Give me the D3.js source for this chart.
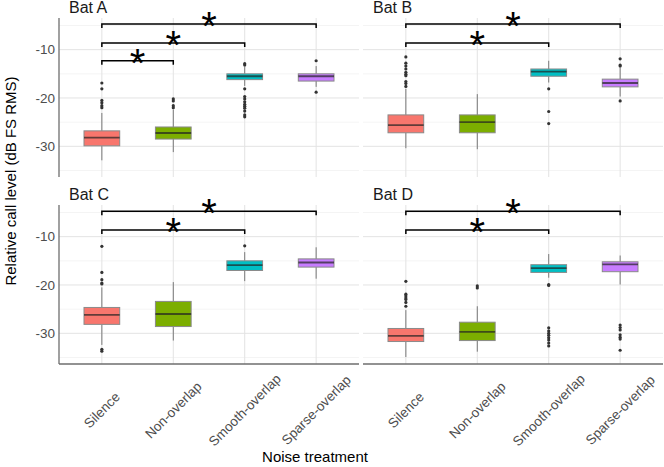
<!DOCTYPE html>
<html><head><meta charset="utf-8">
<script src="https://cdn.jsdelivr.net/npm/d3@7"></script>
<style>body{margin:0;background:#fff}text{font-family:"Liberation Sans",Arial,sans-serif}</style>
</head><body><svg id="chart" width="664" height="467"></svg>
<script>
// ---- data ----
const categories = ["Silence", "Non-overlap", "Smooth-overlap", "Sparse-overlap"];
const bats = ["Bat A", "Bat B", "Bat C", "Bat D"];
const yTicks = [-30, -20, -10];
const yMinorTicks = [-35, -25, -15, -5];
const yDomain = [-36.35, -3.45];

// box stats per treatment: [lower whisker, Q1, median, Q3, upper whisker]
const boxesA = [[-32.9, -29.9, -28.2, -26.8, -23.1], [-31.2, -28.5, -27.25, -26.0, -22.4], [-17.5, -16.2, -15.5, -15.0, -13.6], [-17.7, -16.5, -15.5, -15.0, -13.4]];
const boxesB = [[-30.4, -27.2, -25.6, -23.5, -18.1], [-30.6, -27.2, -25.0, -23.5, -19.2], [-16.8, -15.5, -14.55, -14.0, -12.3], [-19.7, -17.7, -16.9, -16.1, -13.8]];
const boxesC = [[-32.4, -28.15, -26.2, -24.65, -20.5], [-31.5, -28.6, -26.0, -23.4, -19.4], [-19.2, -17.0, -15.9, -15.0, -13.2], [-18.7, -16.3, -15.35, -14.6, -12.2]];
const boxesD = [[-34.9, -31.7, -30.55, -29.0, -25.2], [-33.8, -31.5, -29.7, -27.7, -24.4], [-18.5, -17.4, -16.5, -15.8, -13.6], [-19.9, -17.25, -15.75, -15.2, -13.9]];

// outliers per treatment
const outliersA = [[-16.9, -18.1, -20.5, -21.0, -21.6, -22.0], [-20.2, -20.6, -21.6, -22.0], [-12.9, -13.2, -18.1, -19.7, -20.2, -20.8, -21.3, -21.7, -22.1, -22.7, -23.5, -23.9], [-12.3, -18.8]];
const outliersB = [[-11.5, -12.8, -13.4, -14.0, -14.7, -15.1, -15.4, -16.6, -17.0, -17.6], [], [-18.1, -22.8, -25.3], [-11.9, -13.2, -13.4, -20.6]];
const outliersC = [[-12.0, -17.4, -18.9, -19.6, -19.8, -33.3, -33.7], [], [-11.9], []];
const outliersD = [[-19.25, -21.9, -22.3, -22.7, -23.0, -23.6, -24.4], [-20.2, -20.6], [-19.9, -20.1, -28.85, -29.5, -30.0, -30.4, -30.9, -31.4, -32.0, -32.6], [-28.3, -28.8, -29.3, -30.3, -30.8, -31.2, -33.5]];

// significance brackets: [from category index, to category index, y value]
const bracketsA = [[0, 3, -4.7], [0, 2, -8.6], [0, 1, -12.3]];
const bracketsB = [[0, 3, -4.7], [0, 2, -8.6]];
const bracketsC = [[0, 3, -4.75], [0, 2, -8.6]];
const bracketsD = [[0, 3, -4.75], [0, 2, -8.6]];
const sigLabel = "*";

const xTitle = "Noise treatment";
const yTitle = "Relative call level (dB FS RMS)";

// ---- layout / style ----
const fills = ["#F8766D", "#7CAE00", "#00BFC4", "#C77CFF"];
const panels = [
  {name: bats[0], boxes: boxesA, out: outliersA, br: bracketsA, x0: 59, y0: 18, left: true, bottom: false},
  {name: bats[1], boxes: boxesB, out: outliersB, br: bracketsB, x0: 363, y0: 18, left: false, bottom: false},
  {name: bats[2], boxes: boxesC, out: outliersC, br: bracketsC, x0: 59, y0: 205, left: true, bottom: true},
  {name: bats[3], boxes: boxesD, out: outliersD, br: bracketsD, x0: 363, y0: 205, left: false, bottom: true}
];
const panelW = 300, panelH = 159;

const svg = d3.select("#chart");
svg.append("rect").attr("width", 664).attr("height", 467).attr("fill", "#fff");

panels.forEach(p => {
  const x = d3.scalePoint().domain(categories).range([p.x0, p.x0 + panelW]).padding(0.6);
  const y = d3.scaleLinear().domain(yDomain).range([p.y0 + panelH, p.y0]);
  const bw = x.step() * 0.5;
  const g = svg.append("g");

  // grid
  g.selectAll(".minor").data(yMinorTicks.filter(v => v >= yDomain[0] && v <= yDomain[1])).join("line")
    .attr("x1", p.x0).attr("x2", p.x0 + panelW).attr("y1", d => y(d)).attr("y2", d => y(d))
    .attr("stroke", "#f1f1f1").attr("stroke-width", 0.8);
  g.selectAll(".major").data(yTicks).join("line")
    .attr("x1", p.x0).attr("x2", p.x0 + panelW).attr("y1", d => y(d)).attr("y2", d => y(d))
    .attr("stroke", "#e3e3e3").attr("stroke-width", 1);
  g.selectAll(".vgrid").data(categories).join("line")
    .attr("x1", d => x(d)).attr("x2", d => x(d)).attr("y1", p.y0).attr("y2", p.y0 + panelH)
    .attr("stroke", "#e3e3e3").attr("stroke-width", 1);

  // boxes
  p.boxes.forEach((b, i) => {
    const cx = x(categories[i]);
    const bg = g.append("g");
    bg.append("line").attr("x1", cx).attr("x2", cx).attr("y1", y(b[0])).attr("y2", y(b[1]))
      .attr("stroke", "#7a7a7a").attr("stroke-width", 1);
    bg.append("line").attr("x1", cx).attr("x2", cx).attr("y1", y(b[3])).attr("y2", y(b[4]))
      .attr("stroke", "#7a7a7a").attr("stroke-width", 1);
    bg.append("rect").attr("x", cx - bw / 2).attr("width", bw)
      .attr("y", y(b[3])).attr("height", y(b[1]) - y(b[3]))
      .attr("fill", fills[i]).attr("stroke", "#8a8a8a").attr("stroke-width", 1);
    bg.append("line").attr("x1", cx - bw / 2).attr("x2", cx + bw / 2).attr("y1", y(b[2])).attr("y2", y(b[2]))
      .attr("stroke", "#222").attr("stroke-opacity", 0.7).attr("stroke-width", 1.8);
    bg.selectAll("circle").data(p.out[i]).join("circle")
      .attr("cx", cx).attr("cy", d => y(d)).attr("r", 1.6).attr("fill", "#333");
  });

  // brackets
  const tip = 4;
  p.br.forEach(([a, b, v]) => {
    const x1 = x(categories[a]), x2 = x(categories[b]), yy = y(v);
    g.append("path").attr("d", `M${x1},${yy + tip}L${x1},${yy}L${x2},${yy}L${x2},${yy + tip}`)
      .attr("fill", "none").attr("stroke", "#000").attr("stroke-width", 1.5);
    const fs = 40;
    g.append("text").attr("x", (x1 + x2) / 2).attr("y", yy - 6.8 + 0.57 * fs)
      .attr("text-anchor", "middle").attr("font-size", fs).attr("fill", "#000").text(sigLabel);
  });

  // axis lines
  if (p.left) {
    g.append("line").attr("x1", p.x0).attr("x2", p.x0).attr("y1", p.y0).attr("y2", p.y0 + panelH)
      .attr("stroke", "#6e6e6e").attr("stroke-width", 1.3);
    g.selectAll(".ytick").data(yTicks).join("text")
      .attr("x", p.x0 - 4).attr("y", d => y(d)).attr("dy", "0.35em")
      .attr("text-anchor", "end").attr("font-size", 13.5).attr("fill", "#4d4d4d").text(d => d);
  }
  if (p.bottom) {
    g.append("line").attr("x1", p.x0).attr("x2", p.x0 + panelW).attr("y1", p.y0 + panelH).attr("y2", p.y0 + panelH)
      .attr("stroke", "#6e6e6e").attr("stroke-width", 1.3);
    g.selectAll(".xtick").data(categories).join("text")
      .attr("transform", d => `translate(${x(d)},${p.y0 + panelH + 46}) rotate(-45)`)
      .attr("dy", "0.35em").attr("text-anchor", "middle")
      .attr("font-size", 13.5).attr("fill", "#4d4d4d").text(d => d);
  }

  // strip label
  svg.append("text").attr("x", p.x0 + 10).attr("y", p.y0 - 5)
    .attr("font-size", 16).attr("fill", "#1a1a1a").text(p.name);
});

svg.append("text").attr("x", 315).attr("y", 462).attr("text-anchor", "middle")
  .attr("font-size", 15).attr("fill", "#000").text(xTitle);
svg.append("text").attr("transform", "translate(15.5,181) rotate(-90)").attr("text-anchor", "middle")
  .attr("font-size", 15).attr("fill", "#000").text(yTitle);
</script>
</body></html>
